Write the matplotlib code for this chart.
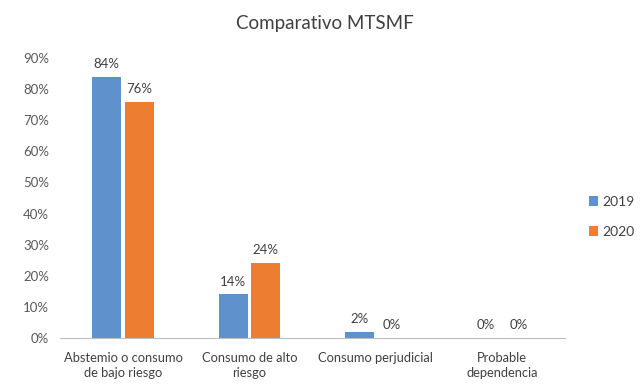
import numpy as np
import matplotlib
matplotlib.use('Agg')
import matplotlib.pyplot as plt
from matplotlib.ticker import PercentFormatter

plt.rcParams['font.family'] = ['Lato', 'DejaVu Sans']

# Datos del comparativo por categoría de consumo
categorias = ['Abstemio o consumo\nde bajo riesgo', 'Consumo de alto\nriesgo',
              'Consumo perjudicial', 'Probable\ndependencia']
anios = ['2019', '2020']
valores_2019 = [84, 14, 2, 0]
valores_2020 = [76, 24, 0, 0]
colores = ['#5F91CD', '#ED7D31']

fig = plt.figure(figsize=(6.4, 3.84), dpi=100)
ax = fig.add_axes([0.094, 0.12, 0.789, 0.729])

x = np.arange(len(categorias))
ancho = 0.23
sep = 0.03
for i, (serie, color) in enumerate(zip([valores_2019, valores_2020], colores)):
    pos = x + (i - 0.5) * (ancho + sep)
    barras = ax.bar(pos, serie, ancho, color=color, label=anios[i])
    for b, v in zip(barras, serie):
        ax.text(b.get_x() + b.get_width() / 2, v + 2.2, f'{v}%',
                ha='center', va='bottom', fontsize=9.5, color='#404040')

ax.set_xlim(-0.5, len(categorias) - 0.5)
ax.set_ylim(0, 90)
ax.set_yticks(range(0, 91, 10))
ax.yaxis.set_major_formatter(PercentFormatter(decimals=0))
ax.set_xticks(x)
ax.set_xticklabels(categorias, fontsize=9.3, color='#404040', linespacing=1.35)
ax.tick_params(axis='y', length=0, labelsize=9.5, labelcolor='#595959', pad=8)
ax.tick_params(axis='x', length=0, pad=10)
for lado in ['top', 'right', 'left']:
    ax.spines[lado].set_visible(False)
ax.spines['bottom'].set_color('#BFBFBF')

fig.text(0.508, 0.94, 'Comparativo MTSMF', ha='center', va='center',
         fontsize=13.5, color='#404040')

fig.legend(loc='center left', bbox_to_anchor=(0.9, 0.435), frameon=False,
           fontsize=10, handlelength=0.7, handleheight=0.7, handletextpad=0.3,
           labelspacing=1.3, labelcolor='#404040')

fig.savefig('out.png', dpi=100)
